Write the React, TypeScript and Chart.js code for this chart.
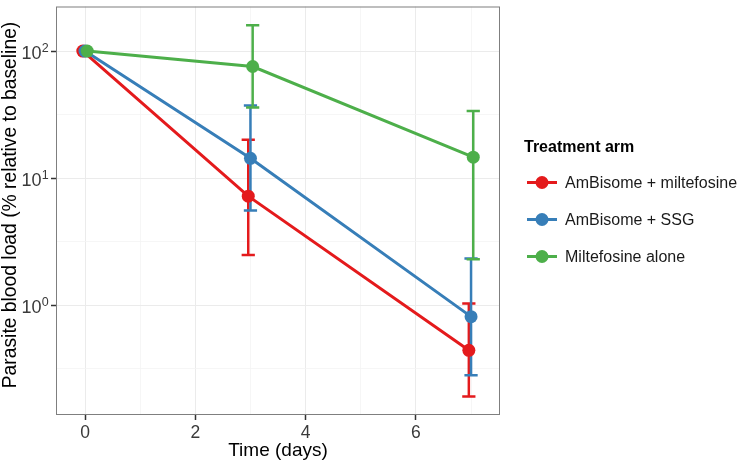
import React, { useEffect, useRef } from 'react';
import { Chart, registerables } from 'chart.js';
Chart.register(...registerables);

const days = [0, 3, 7];
const seriesNames = ['AmBisome + miltefosine', 'AmBisome + SSG', 'Miltefosine alone'];
const seriesColors = ['#E41A1C', '#377EB8', '#4DAF4A'];
const seriesDodge = [-0.04, 0, 0.04];

const redMean = [100, 7.2, 0.44];
const redLower = [100, 2.48, 0.19];
const redUpper = [100, 20.0, 1.03];
const blueMean = [100, 14.3, 0.81];
const blueLower = [100, 5.55, 0.28];
const blueUpper = [100, 37.2, 2.33];
const greenMean = [100, 75.6, 14.6];
const greenLower = [100, 35.9, 2.29];
const greenUpper = [100, 160, 33.8];

const xTicks = [0, 1, 2, 3, 4, 5, 6, 7];
const xTickLabels: Record<number, string> = { 0: '0', 2: '2', 4: '4', 6: '6' };
const yTicks = [Math.pow(10, -0.5), 1, Math.pow(10, 0.5), 10, Math.pow(10, 1.5), 100];
const yTickBase = '10';
const yTickExponents = ['0', '1', '2'];

const xTitle = 'Time (days)';
const yTitle = 'Parasite blood load (% relative to baseline)';
const legendTitle = 'Treatment arm';

const FONT = '"Liberation Sans", Arial, Helvetica, sans-serif';

const means = [redMean, blueMean, greenMean];
const lowers = [redLower, blueLower, greenLower];
const uppers = [redUpper, blueUpper, greenUpper];

const isMajorY = (v: number) => Math.abs(Math.log10(v) - Math.round(Math.log10(v))) < 1e-6;
const isMajorX = (v: number) => xTickLabels[v] !== undefined;

export default function App() {
  const ref = useRef<HTMLCanvasElement>(null);
  useEffect(() => {
    document.body.style.margin = '0';
    const canvas = ref.current!;
    const customPlugin = {
      id: 'custom',
      beforeDatasetsDraw(chart: any) {
        const { ctx, scales } = chart;
        const xs = scales.x, ys = scales.y;
        ctx.save();
        for (let s = 0; s < 3; s++) {
          ctx.strokeStyle = seriesColors[s];
          ctx.lineWidth = 2.5;
          for (let j = 0; j < days.length; j++) {
            const lo = lowers[s][j], hi = uppers[s][j];
            if (lo === hi) continue;
            const xc = xs.getPixelForValue(days[j] + seriesDodge[s]);
            const half = xs.getPixelForValue(0.12) - xs.getPixelForValue(0);
            const y1 = ys.getPixelForValue(lo), y2 = ys.getPixelForValue(hi);
            ctx.beginPath();
            ctx.moveTo(xc, y1); ctx.lineTo(xc, y2);
            ctx.moveTo(xc - half, y1); ctx.lineTo(xc + half, y1);
            ctx.moveTo(xc - half, y2); ctx.lineTo(xc + half, y2);
            ctx.stroke();
          }
        }
        ctx.restore();
      },
      afterDraw(chart: any) {
        const { ctx, chartArea, scales } = chart;
        ctx.save();
        // panel border
        ctx.strokeStyle = '#7f7f7f';
        ctx.lineWidth = 1;
        ctx.strokeRect(chartArea.left + 0.5, chartArea.top + 0.5, chartArea.right - chartArea.left - 1, chartArea.bottom - chartArea.top - 1);
        // y tick labels with superscript exponents
        ctx.fillStyle = '#3a3a3a';
        ctx.textBaseline = 'alphabetic';
        for (let e = 0; e < yTickExponents.length; e++) {
          const y = scales.y.getPixelForValue(Math.pow(10, e));
          ctx.font = `18px ${FONT}`;
          ctx.textAlign = 'right';
          ctx.fillText(yTickBase, 41.5, y + 7.6);
          ctx.font = `12.5px ${FONT}`;
          ctx.textAlign = 'left';
          ctx.fillText(yTickExponents[e], 41.8, y + 1);
        }
        // axis titles
        ctx.fillStyle = '#000';
        ctx.font = `19px ${FONT}`;
        ctx.textAlign = 'center';
        ctx.textBaseline = 'middle';
        ctx.fillText(xTitle, (chartArea.left + chartArea.right) / 2, 451);
        ctx.save();
        ctx.translate(11, 205);
        ctx.rotate(-Math.PI / 2);
        ctx.font = `19.3px ${FONT}`;
        ctx.fillText(yTitle, 0, 0);
        ctx.restore();
        // legend
        ctx.textAlign = 'left';
        ctx.fillStyle = '#000';
        ctx.font = `bold 16px ${FONT}`;
        ctx.fillText(legendTitle, 524, 148);
        ctx.font = `16px ${FONT}`;
        const ly = [182.5, 219.5, 256.5];
        for (let s = 0; s < 3; s++) {
          const y = ly[s];
          ctx.strokeStyle = seriesColors[s];
          ctx.lineWidth = 3;
          ctx.beginPath();
          ctx.moveTo(527, y); ctx.lineTo(557, y);
          ctx.stroke();
          ctx.fillStyle = seriesColors[s];
          ctx.beginPath();
          ctx.arc(542, y, 6.5, 0, Math.PI * 2);
          ctx.fill();
          ctx.fillStyle = '#1a1a1a';
          ctx.fillText(seriesNames[s], 565, y + 1);
        }
        ctx.restore();
      },
    };

    const datasets = seriesNames.map((name, s) => ({
      label: name,
      data: days.map((d, j) => ({ x: d + seriesDodge[s], y: means[s][j] })),
      borderColor: seriesColors[s],
      backgroundColor: seriesColors[s],
      pointBackgroundColor: seriesColors[s],
      pointBorderColor: seriesColors[s],
      pointRadius: 6.5,
      pointBorderWidth: 0,
      borderWidth: 3,
      showLine: true,
      fill: false,
      tension: 0,
      order: 2 - s,
    }));

    const chart = new Chart(canvas, {
      type: 'scatter',
      data: { datasets },
      options: {
        animation: false,
        responsive: false,
        layout: { padding: { left: 0, right: 238, top: 1, bottom: 0 } },
        plugins: { legend: { display: false }, tooltip: { enabled: false } },
        scales: {
          x: {
            type: 'linear',
            min: -0.526,
            max: 7.525,
            afterBuildTicks: (scale: any) => {
              scale.ticks = xTicks.map((v) => ({ value: v }));
            },
            afterFit: (scale: any) => {
              scale.height = 48;
              scale.paddingLeft = 0; scale.paddingRight = 0;
            },
            border: { display: false },
            grid: {
              color: (c: any) => (c.tick && isMajorX(c.tick.value) ? '#ebebeb' : '#f4f4f4'),
              lineWidth: (c: any) => (c.tick && isMajorX(c.tick.value) ? 1 : 0.8),
              tickColor: (c: any) => (c.tick && isMajorX(c.tick.value) ? '#333333' : 'rgba(0,0,0,0)'),
              tickLength: 5,
              tickWidth: 1.5,
            },
            ticks: {
              autoSkip: false,
              maxRotation: 0,
              padding: 3,
              color: '#3a3a3a',
              font: { family: FONT, size: 17.5 },
              callback: (v: any) => (xTickLabels[v] !== undefined ? xTickLabels[v] : ''),
            },
          },
          y: {
            type: 'logarithmic',
            min: Math.pow(10, -0.866),
            max: Math.pow(10, 2.351),
            afterBuildTicks: (scale: any) => {
              scale.ticks = yTicks.map((v) => ({ value: v }));
            },
            afterFit: (scale: any) => {
              scale.width = 56;
              scale.paddingTop = 0; scale.paddingBottom = 0;
            },
            border: { display: false },
            grid: {
              color: (c: any) => (c.tick && isMajorY(c.tick.value) ? '#ebebeb' : '#f4f4f4'),
              lineWidth: (c: any) => (c.tick && isMajorY(c.tick.value) ? 1 : 0.8),
              tickColor: (c: any) => (c.tick && isMajorY(c.tick.value) ? '#333333' : 'rgba(0,0,0,0)'),
              tickLength: 5,
              tickWidth: 1.5,
            },
            ticks: {
              display: false,
              autoSkip: false,
            },
          },
        },
      },
      plugins: [customPlugin],
    });
    return () => chart.destroy();
  }, []);

  return (
    <div style={{ width: 738, height: 463, position: 'relative' }}>
      <canvas ref={ref} width={738} height={463} style={{ display: 'block' }} />
    </div>
  );
}
